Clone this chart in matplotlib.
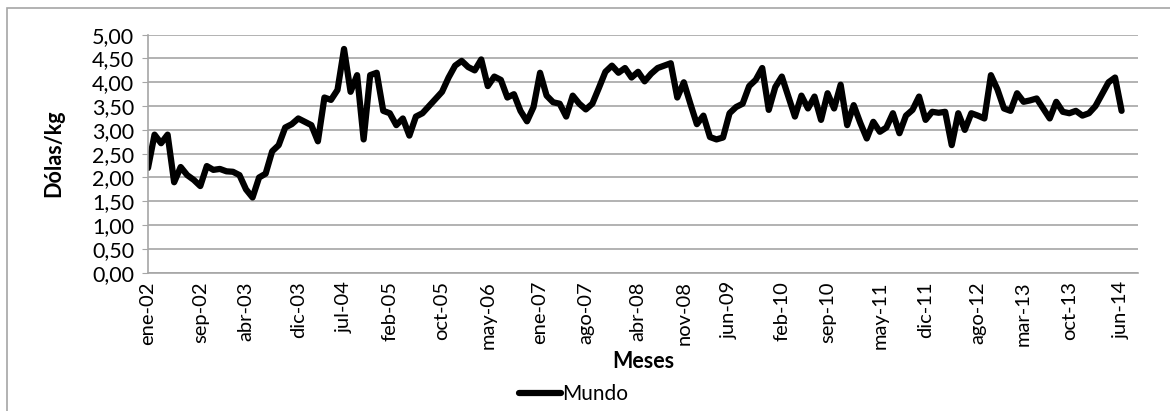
import matplotlib.pyplot as plt
from matplotlib.patches import Rectangle

# Precio mensual (USD/kg), ene-2002 a jun-2014
precio_mundo = [
    2.20, 2.90, 2.72, 2.90, 1.90, 2.22, 2.05, 1.95, 1.82, 2.24,
    2.16, 2.18, 2.13, 2.12, 2.05, 1.75, 1.58, 2.00, 2.08, 2.55,
    2.68, 3.05, 3.12, 3.24, 3.17, 3.10, 2.76, 3.68, 3.63, 3.84,
    4.70, 3.80, 4.15, 2.80, 4.15, 4.20, 3.40, 3.35, 3.10, 3.24,
    2.88, 3.28, 3.35, 3.50, 3.65, 3.80, 4.10, 4.35, 4.45, 4.32,
    4.25, 4.48, 3.92, 4.12, 4.05, 3.68, 3.75, 3.40, 3.18, 3.48,
    4.20, 3.72, 3.58, 3.55, 3.28, 3.72, 3.55, 3.43, 3.55, 3.88,
    4.22, 4.35, 4.20, 4.30, 4.10, 4.22, 4.02, 4.18, 4.30, 4.35,
    4.40, 3.68, 4.00, 3.55, 3.12, 3.30, 2.85, 2.80, 2.84, 3.35,
    3.48, 3.55, 3.92, 4.05, 4.30, 3.42, 3.90, 4.12, 3.70, 3.28,
    3.72, 3.45, 3.70, 3.21, 3.77, 3.45, 3.95, 3.10, 3.52, 3.15,
    2.82, 3.17, 2.96, 3.05, 3.35, 2.93, 3.30, 3.42, 3.70, 3.21,
    3.38, 3.36, 3.38, 2.68, 3.35, 3.00, 3.35, 3.30, 3.24, 4.15,
    3.85, 3.45, 3.40, 3.77, 3.59, 3.62, 3.66, 3.45, 3.24, 3.59,
    3.38, 3.35, 3.40, 3.30, 3.35, 3.50, 3.75, 4.00, 4.10, 3.40,
]
meses = list(range(len(precio_mundo)))

etiquetas_x = ['ene-02', 'sep-02', 'abr-03', 'dic-03', 'jul-04', 'feb-05', 'oct-05',
               'may-06', 'ene-07', 'ago-07', 'abr-08', 'nov-08', 'jun-09', 'feb-10',
               'sep-10', 'may-11', 'dic-11', 'ago-12', 'mar-13', 'oct-13', 'jun-14']
posiciones_x = [0, 8, 15, 23, 30, 37, 45, 52, 60, 67, 75, 82, 89, 97, 104,
                112, 119, 127, 134, 141, 149]
ticks_y = [i * 0.5 for i in range(11)]

plt.rcParams['font.family'] = ['Lato', 'DejaVu Sans']
plt.rcParams['font.size'] = 15

fig = plt.figure(figsize=(11.7, 4.11), dpi=100)
ax = fig.add_axes([0.1265, 0.3365, 0.9726 - 0.1265, 0.9156 - 0.3365])

# marco del área del gráfico (solo se ven los bordes izquierdo y superior)
fig.patches.append(Rectangle((7 / 1170, -0.1), 1.0, 1.1 - 8 / 411,
                             transform=fig.transFigure, fill=False,
                             edgecolor='#a6a6a6', linewidth=1.2))

ax.plot(meses, precio_mundo, color='black', linewidth=4.5,
        solid_joinstyle='round', solid_capstyle='round', label='Mundo')

ax.set_xlim(0, 151.5)
ax.set_ylim(0, 5)
ax.set_yticks(ticks_y)
ax.set_yticklabels([f'{v:.2f}'.replace('.', ',') for v in ticks_y], fontsize=15.5)
ax.set_xticks(posiciones_x)
ax.set_xticklabels(etiquetas_x, rotation=90, fontsize=14.5)

ax.grid(axis='y', color='#a6a6a6', linewidth=1.2)
ax.set_axisbelow(True)
for lado in ['top', 'right']:
    ax.spines[lado].set_visible(False)
for lado in ['left', 'bottom']:
    ax.spines[lado].set_color('#a6a6a6')
    ax.spines[lado].set_linewidth(1.2)
ax.tick_params(axis='y', length=4, color='#a6a6a6', pad=6)
ax.tick_params(axis='x', length=0, pad=6)

ax.set_ylabel('Dólas/kg', fontweight='bold', fontsize=15.5)
ax.yaxis.set_label_coords(-0.085, 0.5)
ax.set_xlabel('Meses', fontweight='bold', fontsize=15.5)
ax.xaxis.set_label_coords(0.5, -0.33)

fig.legend(*ax.get_legend_handles_labels(), loc='center',
           bbox_to_anchor=(0.49, 1 - 394 / 411), frameon=False,
           handlelength=2.0, handletextpad=0.05, borderaxespad=0)

plt.savefig('out.png', dpi=100)
